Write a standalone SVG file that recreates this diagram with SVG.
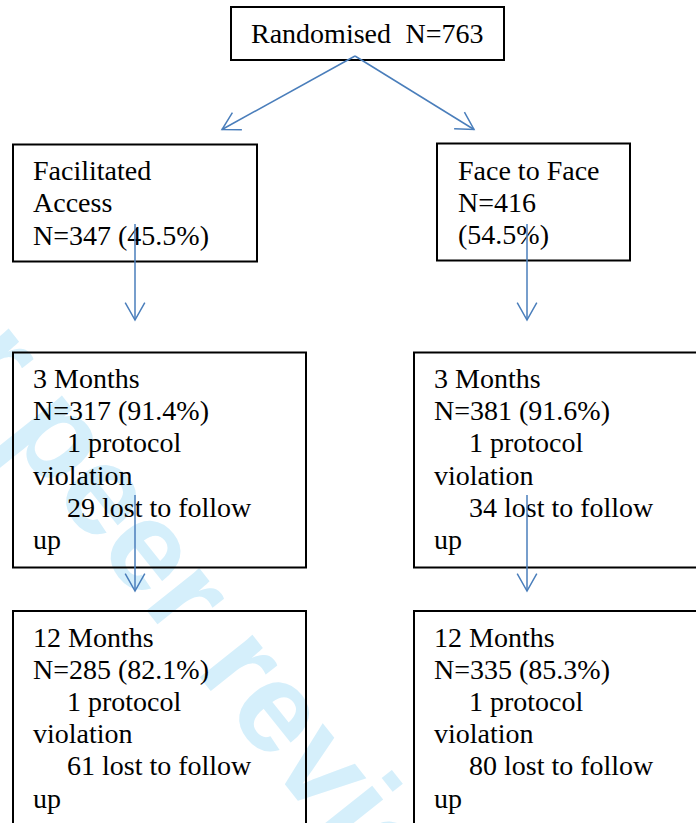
<svg xmlns="http://www.w3.org/2000/svg" width="696" height="823" viewBox="0 0 696 823">
  <style>
    .box { fill: none; stroke: #000; stroke-width: 2; }
    .t { font-family: "Liberation Serif", "Times New Roman", serif; font-size: 28px; fill: #000; }
    .wm { font-family: "Liberation Sans", Arial, sans-serif; font-weight: bold; font-size: 128px; fill: #d5effb; }
    .conn { stroke: #4a7ebb; stroke-width: 1.5; fill: none; }
  </style>
  <defs>
    <marker id="ah" markerUnits="userSpaceOnUse" markerWidth="20" markerHeight="22" refX="18" refY="10" orient="auto" overflow="visible">
      <path d="M0.7,0.2 L18,10 L0.7,19.8" fill="none" stroke="#4a7ebb" stroke-width="1.5"/>
    </marker>
  </defs>
  <rect width="696" height="823" fill="#fff"/>
  <text class="wm" transform="translate(-146.8 241.7) rotate(51.5)">For peer review only</text>

  <g id="randomised">
    <rect class="box" x="231" y="7" width="273" height="53"/>
    <text class="t" x="251" y="42.5">Randomised<tspan x="405.5">N=763</tspan></text>
  </g>

  <g id="facilitated">
    <rect class="box" x="13" y="144.5" width="244" height="117"/>
    <text class="t" x="33" y="180">Facilitated</text>
    <text class="t" x="33" y="212.3">Access</text>
    <text class="t" x="33" y="244.6">N=347 (45.5%)</text>
  </g>

  <g id="face">
    <rect class="box" x="437" y="143.5" width="193" height="117"/>
    <text class="t" x="458" y="179.5">Face to Face</text>
    <text class="t" x="458" y="211.8">N=416</text>
    <text class="t" x="458" y="244.1">(54.5%)</text>
  </g>

  <g id="fa3">
    <rect class="box" x="13" y="352.5" width="293" height="215"/>
    <text class="t" x="33" y="388">3 Months</text>
    <text class="t" x="33" y="420.2">N=317 (91.4%)</text>
    <text class="t" x="67" y="452.4">1 protocol</text>
    <text class="t" x="33" y="484.6">violation</text>
    <text class="t" x="67" y="516.8">29 lost to follow</text>
    <text class="t" x="33" y="549">up</text>
  </g>

  <g id="ff3">
    <rect class="box" x="414" y="352.5" width="300" height="215"/>
    <text class="t" x="434" y="388">3 Months</text>
    <text class="t" x="434" y="420.2">N=381 (91.6%)</text>
    <text class="t" x="469" y="452.4">1 protocol</text>
    <text class="t" x="434" y="484.6">violation</text>
    <text class="t" x="469" y="516.8">34 lost to follow</text>
    <text class="t" x="434" y="549">up</text>
  </g>

  <g id="fa12">
    <rect class="box" x="13" y="611" width="293" height="230"/>
    <text class="t" x="33" y="646.5">12 Months</text>
    <text class="t" x="33" y="678.7">N=285 (82.1%)</text>
    <text class="t" x="67" y="710.9">1 protocol</text>
    <text class="t" x="33" y="743.1">violation</text>
    <text class="t" x="67" y="775.3">61 lost to follow</text>
    <text class="t" x="33" y="807.5">up</text>
  </g>

  <g id="ff12">
    <rect class="box" x="414" y="611" width="300" height="230"/>
    <text class="t" x="434" y="646.5">12 Months</text>
    <text class="t" x="434" y="678.7">N=335 (85.3%)</text>
    <text class="t" x="469" y="710.9">1 protocol</text>
    <text class="t" x="434" y="743.1">violation</text>
    <text class="t" x="469" y="775.3">80 lost to follow</text>
    <text class="t" x="434" y="807.5">up</text>
  </g>

  <g id="connectors">
    <line class="conn" x1="355" y1="56" x2="222" y2="129.5" marker-end="url(#ah)"/>
    <line class="conn" x1="355" y1="56" x2="474" y2="129.5" marker-end="url(#ah)"/>
    <line class="conn" x1="135" y1="224" x2="135" y2="320" marker-end="url(#ah)"/>
    <line class="conn" x1="527" y1="224" x2="527" y2="320" marker-end="url(#ah)"/>
    <line class="conn" x1="135" y1="495" x2="135" y2="591" marker-end="url(#ah)"/>
    <line class="conn" x1="527" y1="495" x2="527" y2="591" marker-end="url(#ah)"/>
  </g>
</svg>
